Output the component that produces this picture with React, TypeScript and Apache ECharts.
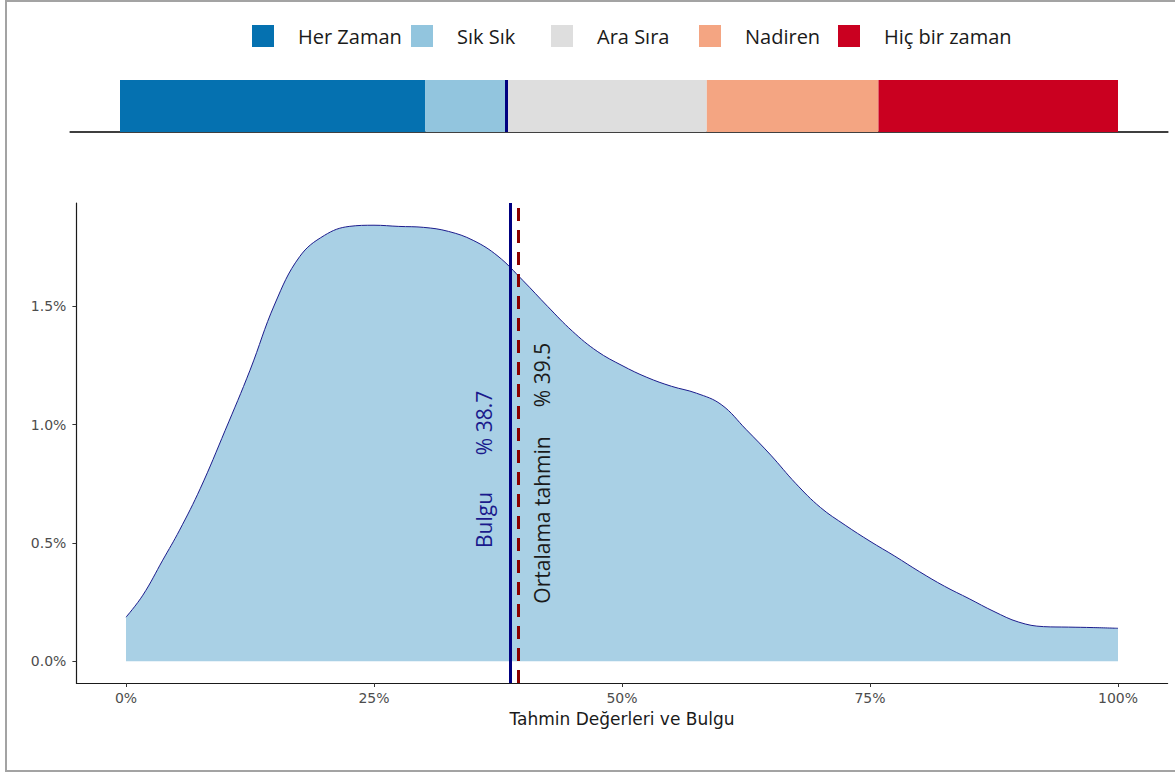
import React, { useEffect, useRef } from 'react';
import * as echarts from 'echarts';

// ---- data ----
const categories = ['Her Zaman', 'Sık Sık', 'Ara Sıra', 'Nadiren', 'Hiç bir zaman'];
const shares = [30.6, 8.0, 20.2, 17.2, 24.0];
const categoryColors = ['#0571b0', '#92c5de', '#dedede', '#f4a582', '#ca0020'];

const densityX = [0, 1.7, 3.7, 5.4, 7.5, 10, 12.5, 15, 17.5, 20, 22.5, 25, 27.5, 30, 32.5, 35, 37.5, 40, 42.5, 45, 47.5, 50, 52.5, 55, 57.5, 60, 62.5, 65, 67.5, 70, 72.5, 75, 77.5, 80, 82.5, 85, 87.5, 90, 92.5, 95, 97.5, 100];
const densityY = [0.186, 0.279, 0.427, 0.554, 0.731, 0.976, 1.23, 1.51, 1.71, 1.8, 1.838, 1.843, 1.838, 1.834, 1.817, 1.779, 1.712, 1.61, 1.5, 1.395, 1.31, 1.25, 1.2, 1.162, 1.133, 1.085, 0.98, 0.871, 0.752, 0.65, 0.575, 0.507, 0.444, 0.378, 0.317, 0.264, 0.21, 0.165, 0.146, 0.144, 0.142, 0.139];

const finding = 38.7;
const meanEstimate = 39.5;
const xTicks = [0, 25, 50, 75, 100];
const yTicks = [0, 0.5, 1.0, 1.5];

// ---- layout ----
const legendLefts = [252, 411, 551, 699, 838];
const axisFont = 'DejaVu Sans';
const textFont = 'Open Sans';
const mainGrid = { left: 76.4, top: 203, width: 1091.2, height: 480 };
const xMin = -5;
const xMax = 105;

export default function App() {
  const ref = useRef<HTMLDivElement>(null);

  useEffect(() => {
    if (!ref.current) return;
    const chart = echarts.init(ref.current, null, { renderer: 'svg' });

    const legends = categories.map((name, i) => ({
      show: true,
      data: [name],
      left: legendLefts[i],
      top: 25,
      padding: 0,
      orient: 'horizontal',
      icon: 'rect',
      itemWidth: 22,
      itemHeight: 22,
      selectedMode: false,
      textStyle: {
        fontFamily: textFont,
        fontSize: 20,
        color: '#1a1a1a',
        padding: [0, 0, 0, 19],
      },
    }));

    const barSeries = categories.map((name, i) => ({
      name,
      type: 'bar',
      stack: 'total',
      xAxisIndex: 1,
      yAxisIndex: 1,
      barWidth: '100%',
      itemStyle: { color: categoryColors[i] },
      data: [shares[i]],
      ...(i === categories.length - 1
        ? {
            markLine: {
              silent: true,
              symbol: 'none',
              label: { show: false },
              lineStyle: { color: '#000080', width: 3, type: 'solid' },
              data: [{ xAxis: finding }],
            },
          }
        : {}),
    }));

    // pixel x of a value on the main x axis (for annotation placement)
    const toPx = (v: number) => mainGrid.left + (mainGrid.width * (v - xMin)) / (xMax - xMin);
    const fx = toPx(finding);
    const mx = toPx(meanEstimate);

    const mk = (text: string, x: number, y: number, color: string) => ({
      type: 'text',
      x,
      y,
      rotation: Math.PI / 2,
      silent: true,
      z: 100,
      style: {
        text,
        fill: color,
        fontFamily: textFont,
        fontSize: 21,
        align: 'center',
        verticalAlign: 'middle',
      },
    });

    const option: any = {
      animation: false,
      backgroundColor: '#ffffff',
      legend: legends,
      grid: [
        { ...mainGrid, containLabel: false },
        { left: 70.1, top: 80, width: 1097.8, height: 52, containLabel: false },
      ],
      xAxis: [
        {
          type: 'value',
          gridIndex: 0,
          min: xMin,
          max: xMax,
          name: 'Tahmin Değerleri ve Bulgu',
          nameLocation: 'middle',
          nameGap: 27,
          nameTextStyle: { fontFamily: axisFont, fontSize: 17, color: '#1a1a1a' },
          axisLine: { show: true, onZero: false, lineStyle: { color: '#1a1a1a', width: 1.2 } },
          axisTick: { show: true, length: 4, lineStyle: { color: '#333333' }, customValues: xTicks },
          axisLabel: {
            show: true,
            customValues: xTicks,
            margin: 8,
            fontFamily: axisFont,
            fontSize: 14,
            color: '#4d4d4d',
            formatter: (v: number) => `${Math.round(v)}%`,
          },
          splitLine: { show: false },
        },
        {
          type: 'value',
          gridIndex: 1,
          min: xMin,
          max: xMax,
          axisLine: { show: true, onZero: false, lineStyle: { color: '#000000', width: 1.5 } },
          axisTick: { show: false },
          axisLabel: { show: false },
          splitLine: { show: false },
        },
      ],
      yAxis: [
        {
          type: 'value',
          gridIndex: 0,
          min: -0.0923,
          max: 1.937,
          axisLine: { show: true, onZero: false, lineStyle: { color: '#1a1a1a', width: 1.2 } },
          axisTick: { show: true, length: 4, lineStyle: { color: '#333333' }, customValues: yTicks },
          axisLabel: {
            show: true,
            customValues: yTicks,
            margin: 10,
            fontFamily: axisFont,
            fontSize: 14,
            color: '#4d4d4d',
            formatter: (v: number) => `${v.toFixed(1)}%`,
          },
          splitLine: { show: false },
        },
        {
          type: 'category',
          gridIndex: 1,
          data: ['bar'],
          show: false,
        },
      ],
      graphic: {
        elements: [
          mk('Bulgu', fx - 26, 520, '#1a1a8c'),
          mk('% 38.7', fx - 26, 423, '#1a1a8c'),
          mk('Ortalama tahmin', mx + 24, 520, '#1a1a1a'),
          mk('% 39.5', mx + 24, 375, '#1a1a1a'),
        ],
      },
      series: [
        {
          name: 'density',
          type: 'line',
          xAxisIndex: 0,
          yAxisIndex: 0,
          smooth: 0.4,
          symbol: 'none',
          lineStyle: { color: '#1c1c8c', width: 1 },
          areaStyle: { color: '#a9d0e5', opacity: 1, origin: 0 },
          data: densityX.map((x, i) => [x, densityY[i]]),
          markLine: {
            silent: true,
            symbol: 'none',
            label: { show: false },
            data: [
              { xAxis: finding, lineStyle: { color: '#000080', width: 3, type: 'solid' } },
              { xAxis: meanEstimate, lineStyle: { color: '#8b0000', width: 3, type: [13, 9] } },
            ],
          },
        },
        ...barSeries,
      ],
    };

    chart.setOption(option);

    return () => {
      chart.dispose();
    };
  }, []);

  return (
    <div
      style={{
        position: 'fixed',
        left: 0,
        top: 0,
        width: 1175,
        height: 773,
        overflow: 'hidden',
        background: '#ffffff',
      }}
    >
      <div ref={ref} style={{ position: 'absolute', left: 0, top: 0, width: 1175, height: 773 }} />
      <div
        style={{
          position: 'absolute',
          left: 5,
          top: 0,
          width: 1200,
          height: 772,
          boxSizing: 'border-box',
          border: '2px solid #a3a3a3',
          pointerEvents: 'none',
        }}
      />
    </div>
  );
}
